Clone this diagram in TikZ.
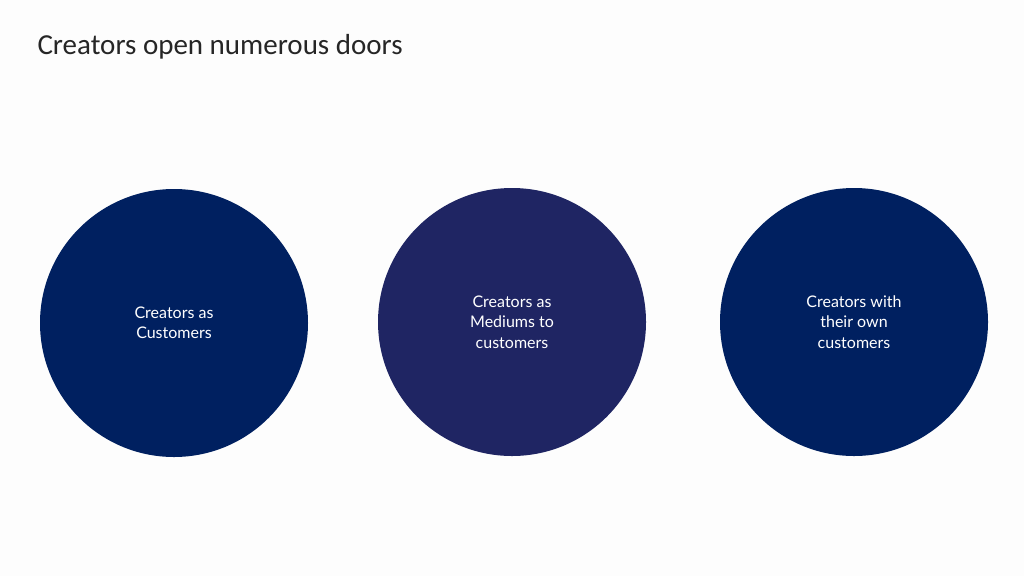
\documentclass[tikz,border=0pt]{standalone}
\usepackage{fontspec}
\setmainfont{Carlito}
\newfontfamily\circfont{Lato}
\definecolor{navy}{HTML}{002060}
\definecolor{indigo}{HTML}{1F2563}
\definecolor{bg}{HTML}{FDFDFD}
\begin{document}
\begin{tikzpicture}[x=1pt,y=-1pt,
  disc/.style={circle,minimum size=268pt,inner sep=0pt,text=white,align=center,font=\circfont\fontsize{16}{20.5}\selectfont}]
\fill[bg] (0,0) rectangle (1024,576);
\useasboundingbox (0,0) rectangle (1024,576);
\node[anchor=west,font=\fontsize{29}{34}\selectfont,text=black!85] (title) at (34,47) {Creators open numerous doors};
\node[disc,fill=navy] (c1) at (174,323) {Creators as\\Customers};
\node[disc,fill=indigo] (c2) at (512,322) {Creators as\\Mediums to\\customers};
\node[disc,fill=navy] (c3) at (854,322) {Creators with\\their own\\customers};
\end{tikzpicture}
\end{document}
